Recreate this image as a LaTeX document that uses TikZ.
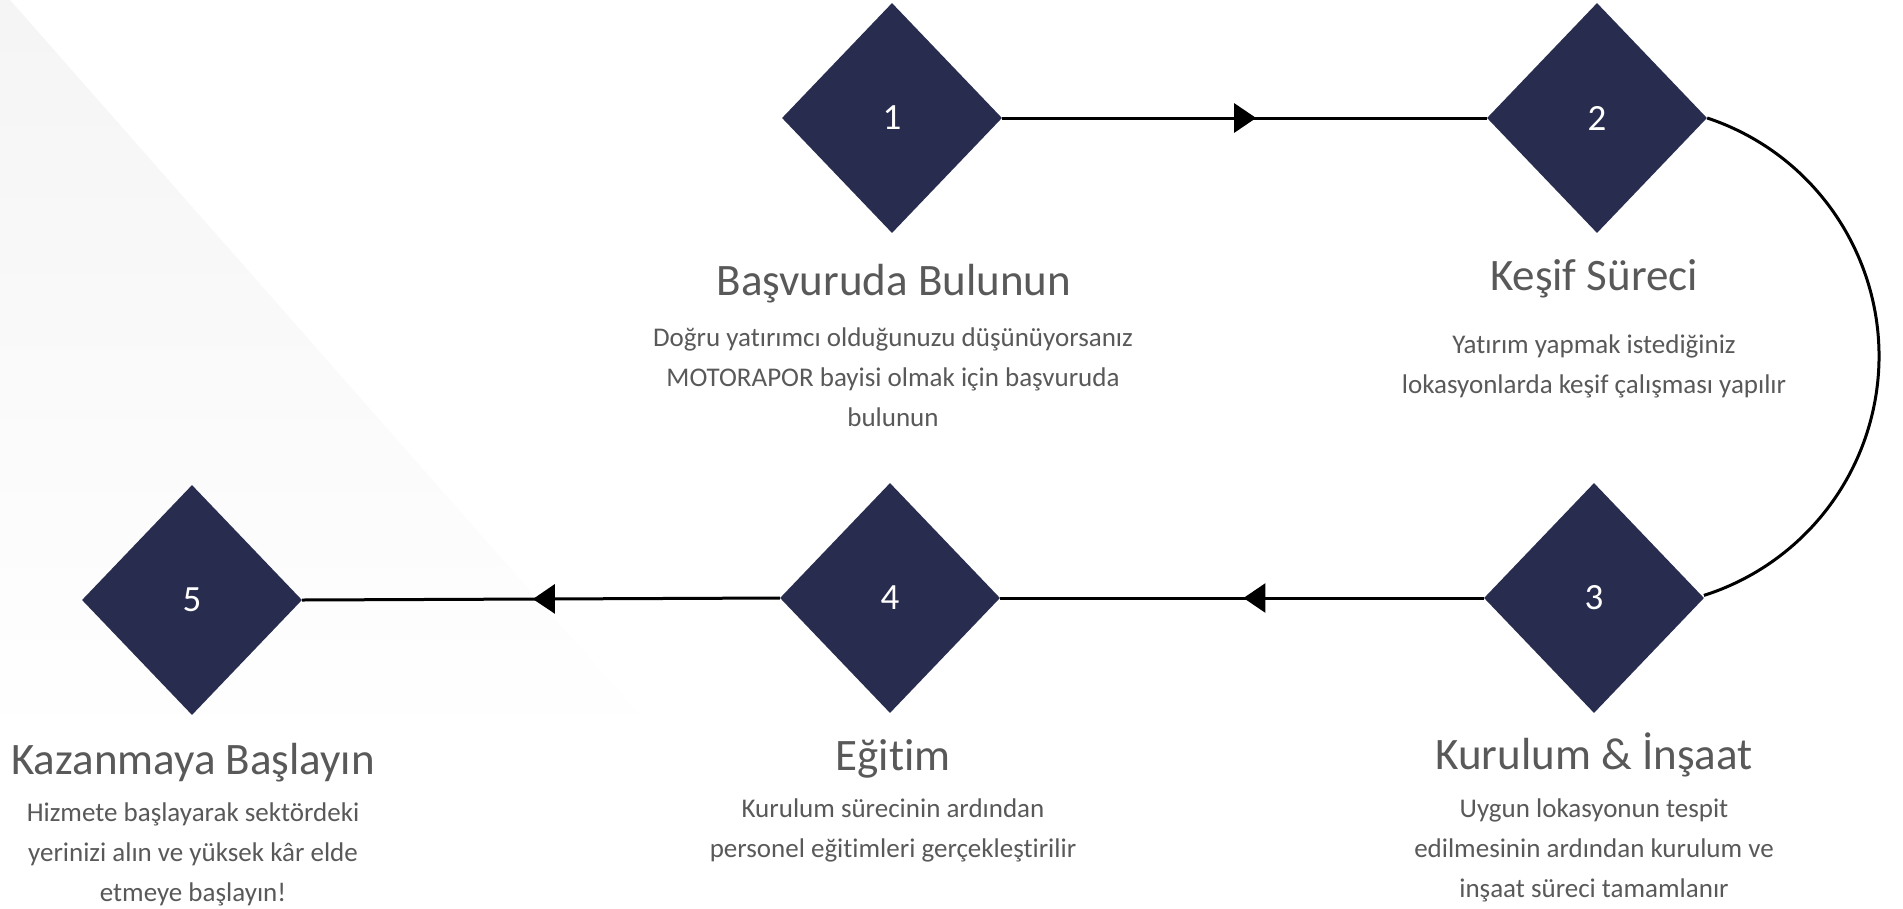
\documentclass[tikz,border=0pt]{standalone}
\usepackage{fontspec}
\setmainfont{Carlito}[Ligatures=NoCommon]
\usetikzlibrary{shapes.geometric,arrows.meta,decorations.markings}
\definecolor{navy}{HTML}{282D4F}
\definecolor{txtgray}{HTML}{595959}
\begin{document}
\begin{tikzpicture}[x=1pt,y=-1pt,
  stepdiamond/.style={diamond, fill=navy, minimum width=220pt, minimum height=230pt, inner sep=0pt, text=white, font=\fontsize{37}{44}\selectfont},
  titletext/.style={text=txtgray, font=\fontsize{45}{54}\selectfont, inner sep=0pt},
  bodytext/.style={text=txtgray, font=\fontsize{27}{40}\selectfont, align=center, inner sep=0pt},
  conn/.style={line width=3pt, draw=black},
  midarrow/.style={postaction={decorate}, decoration={markings, mark=at position #1 with {\arrow{Triangle[length=22pt,width=29pt]}}}}]
\useasboundingbox (0,0) rectangle (1903,908);
\fill[white] (0,0) rectangle (1903,908);
\shade[top color=black!4, bottom color=white] (0,0) -- (10,0) -- (670,750) -- (0,750) -- cycle;

\node[stepdiamond] (d1) at (892,118) {1};
\node[stepdiamond] (d2) at (1597,118) {2};
\node[stepdiamond] (d3) at (1594,598) {3};
\node[stepdiamond] (d4) at (890,598) {4};
\node[stepdiamond] (d5) at (192,600) {5};

\draw[conn, midarrow=0.524] (d1.east) -- (d2.west);
\draw[conn] (d2.east) arc[start angle=-71.6, end angle=72.4, radius=251];
\draw[conn, midarrow=0.497] (d3.west) -- (d4.east);
\draw[conn, midarrow=0.517] (d4.west) -- (d5.east);

\node[titletext] (t1) at (894,284) {Başvuruda Bulunun};
\node[bodytext] (b1) at (893,377) {Doğru yatırımcı olduğunuzu düşünüyorsanız\\MOTORAPOR bayisi olmak için başvuruda\\bulunun};
\node[titletext] (t2) at (1594,279) {Keşif Süreci};
\node[bodytext] (b2) at (1594,366) {Yatırım yapmak istediğiniz\\lokasyonlarda keşif çalışması yapılır};
\node[titletext] (t3) at (1594,755) {Kurulum \& İnşaat};
\node[bodytext] (b3) at (1594,850) {Uygun lokasyonun tespit\\edilmesinin ardından kurulum ve\\inşaat süreci tamamlanır};
\node[titletext] (t4) at (893,759) {Eğitim};
\node[bodytext] (b4) at (893,830) {Kurulum sürecinin ardından\\personel eğitimleri gerçekleştirilir};
\node[titletext] (t5) at (193,763) {Kazanmaya Başlayın};
\node[bodytext] (b5) at (193,854) {Hizmete başlayarak sektördeki\\yerinizi alın ve yüksek kâr elde\\etmeye başlayın!};
\end{tikzpicture}
\end{document}
